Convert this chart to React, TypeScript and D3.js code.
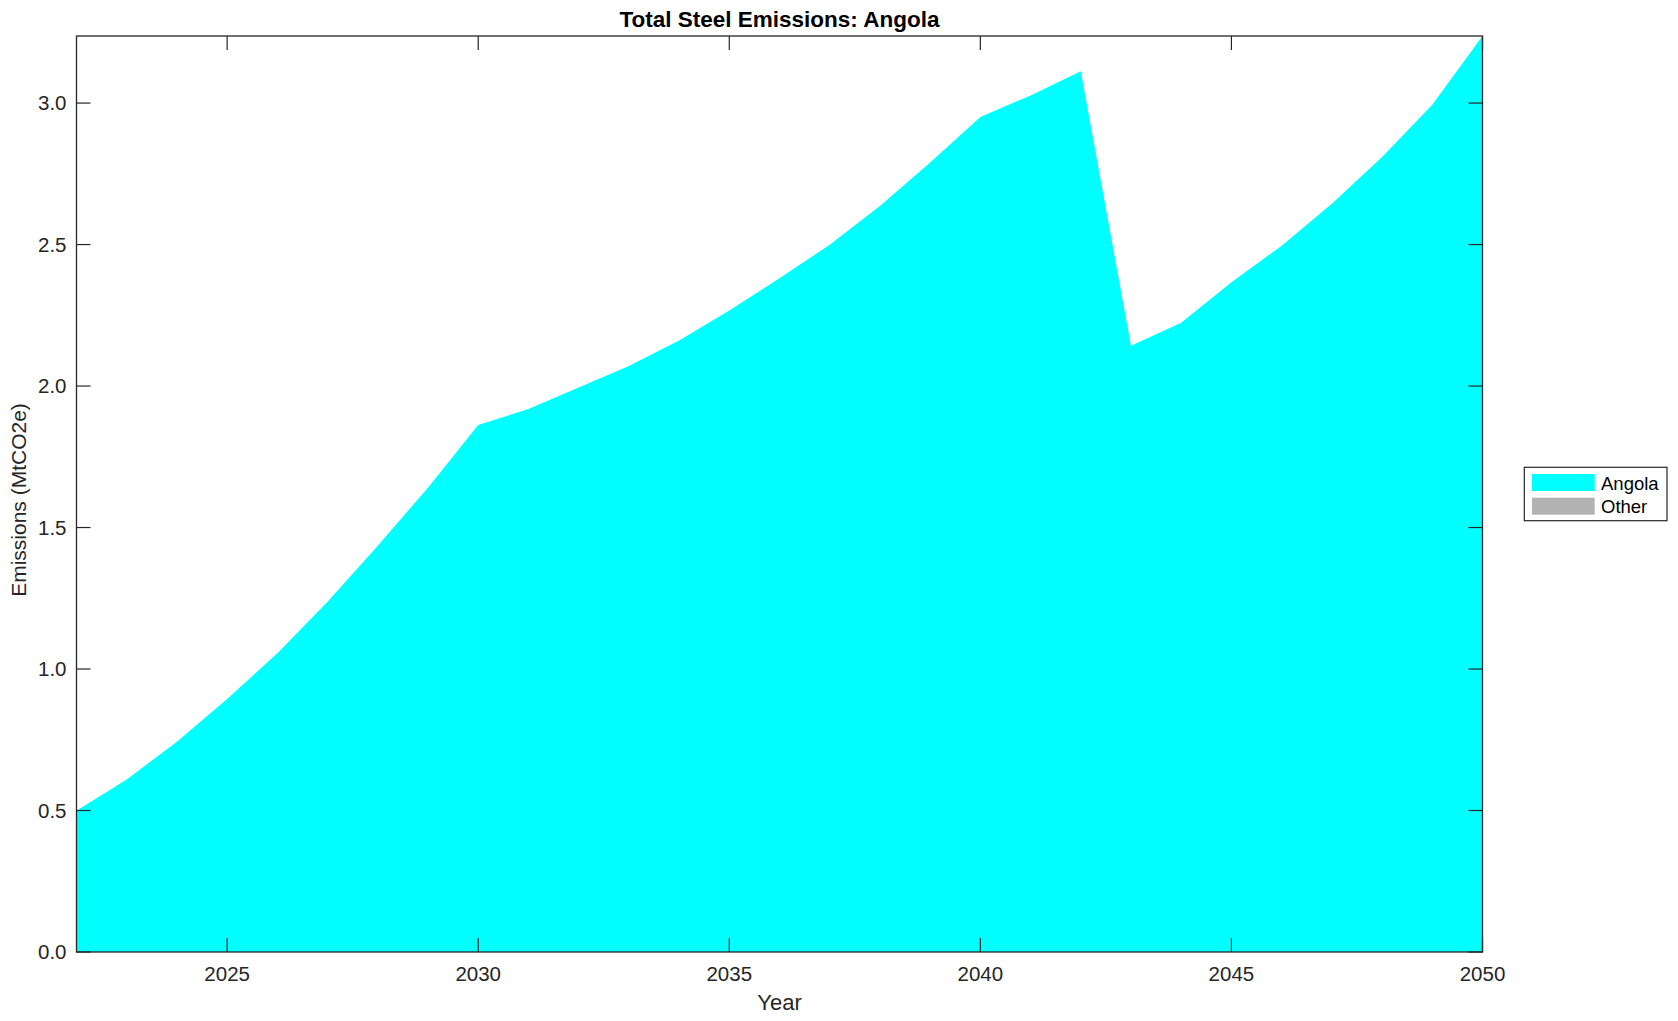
import React from "react";
import * as d3 from "d3";

const years: number[] = [2022, 2023, 2024, 2025, 2026, 2027, 2028, 2029, 2030, 2031, 2032, 2033, 2034, 2035, 2036, 2037, 2038, 2039, 2040, 2041, 2042, 2043, 2044, 2045, 2046, 2047, 2048, 2049, 2050];
const angola: number[] = [0.499, 0.610, 0.743, 0.894, 1.056, 1.238, 1.436, 1.641, 1.862, 1.919, 1.995, 2.071, 2.161, 2.267, 2.381, 2.499, 2.636, 2.790, 2.951, 3.027, 3.112, 2.142, 2.224, 2.367, 2.496, 2.644, 2.809, 2.994, 3.237];
const other: number[] = [0, 0, 0, 0, 0, 0, 0, 0, 0, 0, 0, 0, 0, 0, 0, 0, 0, 0, 0, 0, 0, 0, 0, 0, 0, 0, 0, 0, 0];
const seriesNames: string[] = ["Angola", "Other"];
const seriesColors: string[] = ["#00ffff", "#b3b3b3"];
const xTicks: number[] = [2025, 2030, 2035, 2040, 2045, 2050];
const yTicks: number[] = [0, 0.5, 1.0, 1.5, 2.0, 2.5, 3.0];
const title = "Total Steel Emissions: Angola";
const xLabel = "Year";
const yLabel = "Emissions (MtCO2e)";

const W = 1678;
const H = 1021;
const L = 76.5, R = 1482.5, T = 36, B = 952;
const AX = "#262626";
const FONT = "'Liberation Sans', Arial, Helvetica, sans-serif";

export default function App() {
  const x = d3.scaleLinear().domain([2022, 2050]).range([L, R]);
  const y = d3.scaleLinear().domain([0, 3.237]).range([B, T]);

  const rows = years.map((yr, i) => ({ year: yr, Angola: angola[i], Other: other[i] }));
  const stack = d3.stack<any>().keys(seriesNames)(rows);
  const area = d3
    .area<any>()
    .x((d) => x(d.data.year))
    .y0((d) => y(d[0]))
    .y1((d) => y(d[1]));

  const tickLen = 14;

  return (
    <svg
      width={W}
      height={H}
      style={{ position: "absolute", left: 0, top: 0, display: "block", background: "#fff" }}
      fontFamily={FONT}
    >
      <rect x={0} y={0} width={W} height={H} fill="#fff" />
      {stack.map((s, i) => (
        <path key={seriesNames[i]} d={area(s) || ""} fill={seriesColors[i]} stroke="none" />
      ))}

      {/* axes box */}
      <rect x={L} y={T} width={R - L} height={B - T} fill="none" stroke={AX} strokeWidth={1.3} />

      {/* x ticks */}
      {xTicks.map((t) => (
        <g key={"x" + t}>
          <line x1={x(t)} x2={x(t)} y1={B} y2={B - tickLen} stroke={AX} strokeWidth={1.2} />
          <line x1={x(t)} x2={x(t)} y1={T} y2={T + tickLen} stroke={AX} strokeWidth={1.2} />
          <text x={x(t)} y={B + 29} textAnchor="middle" fontSize={20.5} fill={AX}>
            {String(t)}
          </text>
        </g>
      ))}

      {/* y ticks */}
      {yTicks.map((t) => (
        <g key={"y" + t}>
          <line x1={L} x2={L + tickLen} y1={y(t)} y2={y(t)} stroke={AX} strokeWidth={1.2} />
          <line x1={R} x2={R - tickLen} y1={y(t)} y2={y(t)} stroke={AX} strokeWidth={1.2} />
          <text x={L - 10} y={y(t)} dy="0.36em" textAnchor="end" fontSize={20.5} fill={AX}>
            {t.toFixed(1)}
          </text>
        </g>
      ))}

      {/* title */}
      <text x={(L + R) / 2} y={27} textAnchor="middle" fontSize={22.5} fontWeight="bold" fill="#000">
        {title}
      </text>

      {/* x label */}
      <text x={(L + R) / 2} y={1010} textAnchor="middle" fontSize={22} fill={AX}>
        {xLabel}
      </text>

      {/* y label */}
      <text
        transform={`translate(26, 500) rotate(-90)`}
        textAnchor="middle"
        fontSize={21}
        fill={AX}
      >
        {yLabel}
      </text>

      {/* legend */}
      <g>
        <rect x={1524.3} y={467.3} width={142.7} height={53.4} fill="#fff" stroke={AX} strokeWidth={1.2} />
        {seriesNames.map((n, i) => (
          <g key={"leg" + n}>
            <rect x={1532} y={474 + i * 23.7} width={62.7} height={17} fill={seriesColors[i]} />
            <text x={1601} y={489.5 + i * 23.7} fontSize={18.5} fill="#000">
              {n}
            </text>
          </g>
        ))}
      </g>
    </svg>
  );
}
